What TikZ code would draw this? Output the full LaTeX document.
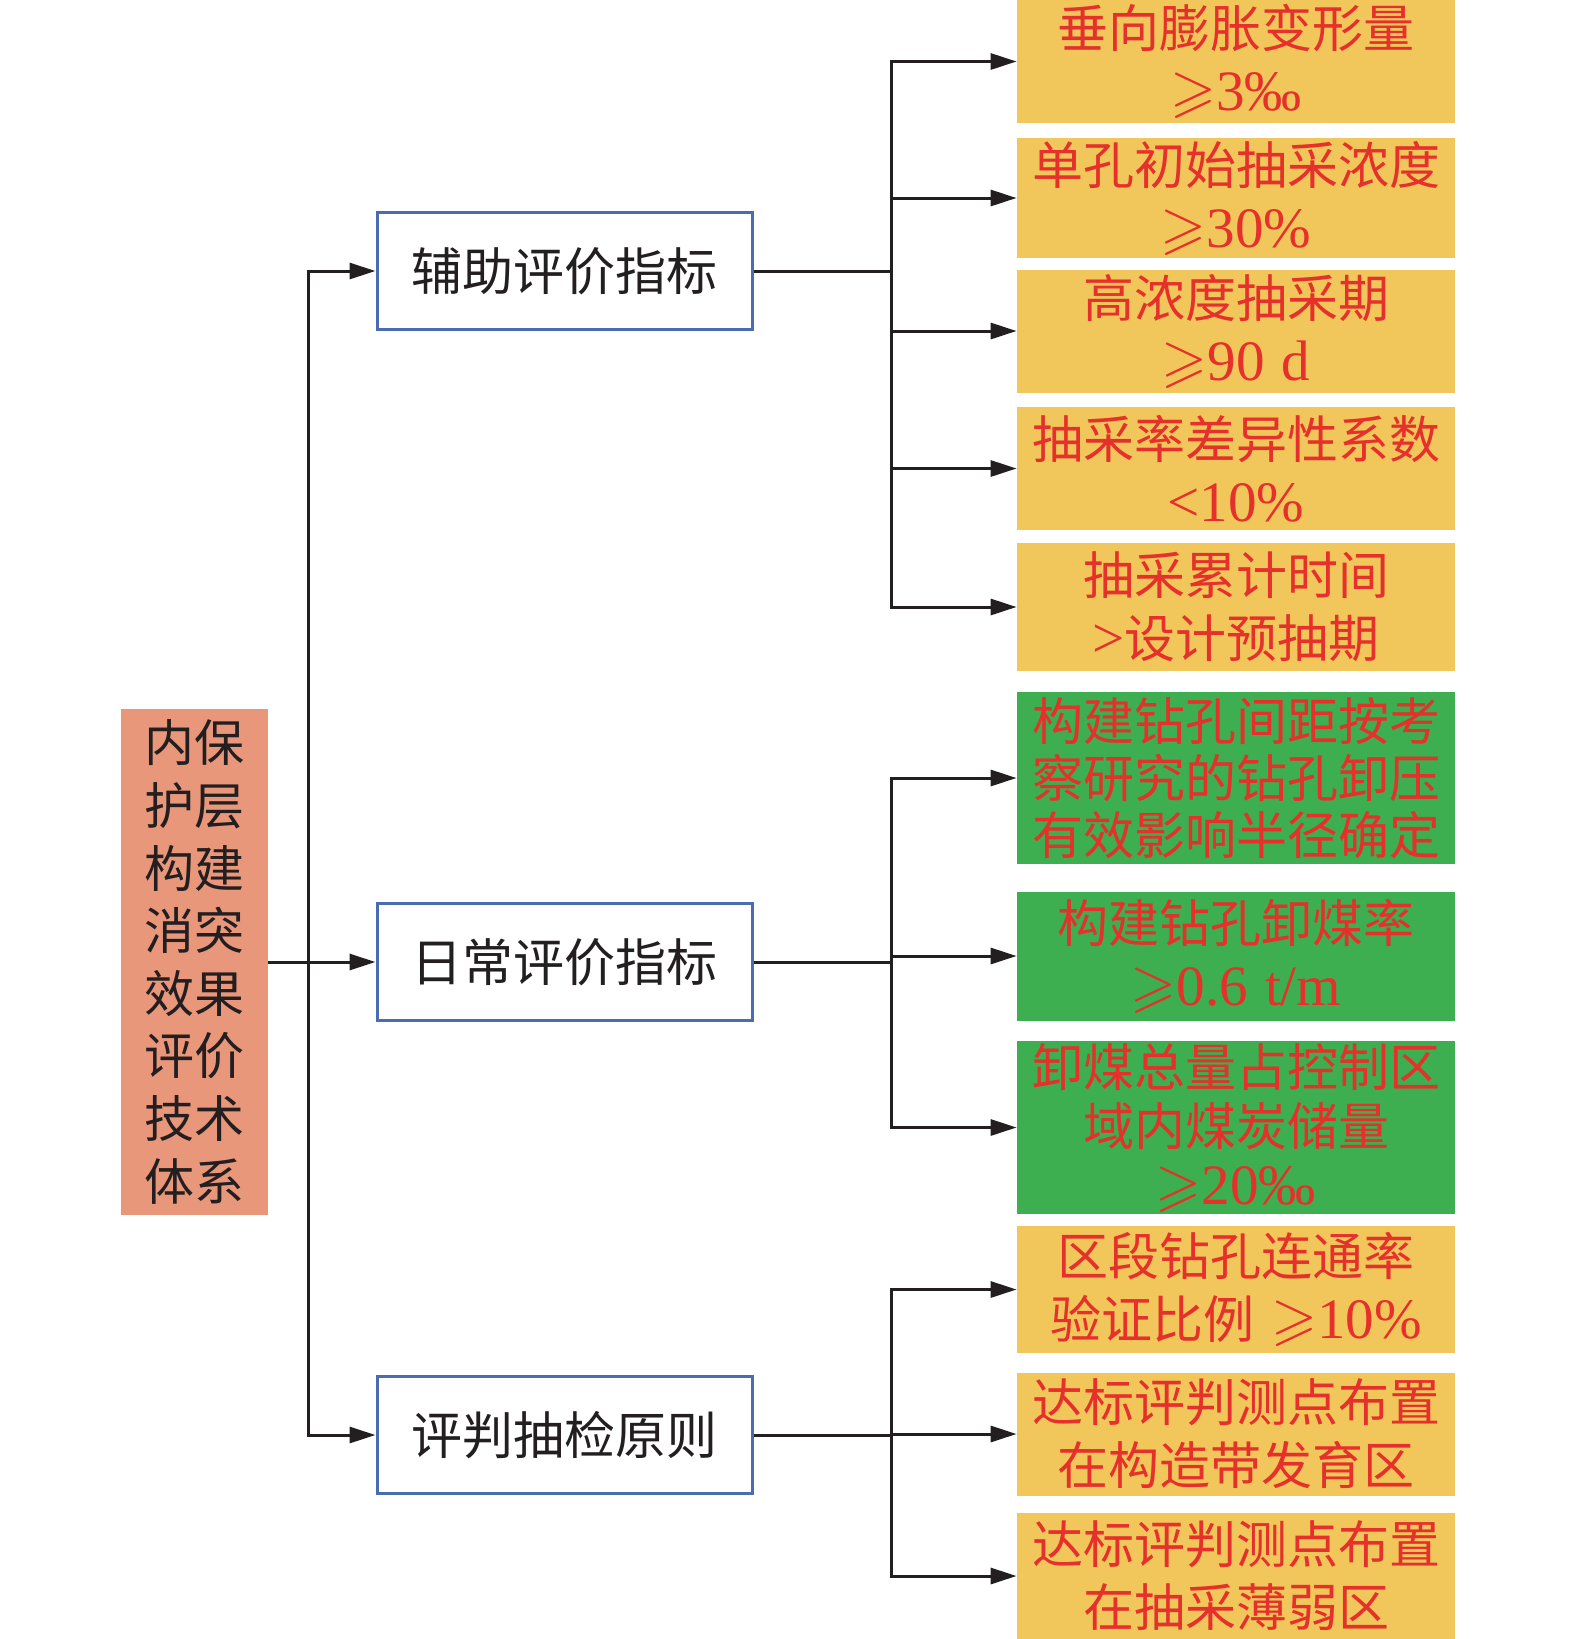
\documentclass[tikz,border=0pt]{standalone}
\usepackage{fontspec}
\usepackage{amssymb}
\setmainfont{Noto Sans CJK SC}
\newfontfamily\tnr[Scale=1.12]{Liberation Serif}
\usetikzlibrary{arrows.meta}
\definecolor{ybox}{HTML}{F1C75B}
\definecolor{gbox}{HTML}{3DAF50}
\definecolor{sbox}{HTML}{E9977A}
\definecolor{bline}{HTML}{4A6CB0}
\definecolor{rtext}{HTML}{E5302B}
\definecolor{kline}{HTML}{231F20}
\newcommand\gq{{\fontsize{29.5}{29.5}\selectfont$\geqslant$}}
\newcommand\tn[1]{{\tnr #1}}
\begin{document}
\begin{tikzpicture}[x=0.5pt,y=-0.5pt,
  conn/.style={draw=kline,line width=1.5pt},
  arr/.style={conn,-{Triangle[length=13pt,width=8pt]}},
  midbox/.style={draw=bline,line width=1.5pt,minimum width=187.5pt,minimum height=58.5pt,inner sep=0pt,text=kline,font=\fontsize{25.5}{30}\selectfont},
  rbox/.style={inner sep=0pt,minimum width=219pt,text width=219pt,align=center,text=rtext,font=\fontsize{25.5}{31.5}\selectfont},
  ybx/.style={rbox,fill=ybox},
  gbx/.style={rbox,fill=gbox,font=\fontsize{25.5}{28.3}\selectfont},
  leftbox/.style={fill=sbox,inner sep=0pt,minimum width=73.5pt,minimum height=253pt,align=center,text=kline,font=\fontsize{25}{31.3}\selectfont}
]
\fill[white] (0,0) rectangle (1575,1639);
\useasboundingbox (0,0) rectangle (1575,1639);

% left root
\node[leftbox] (lb) at (194.5,962) {内保\\护层\\构建\\消突\\效果\\评价\\技术\\体系};

% middle boxes
\node[midbox] (m1) at (564.5,271) {辅助评价指标};
\node[midbox] (m2) at (564.5,962) {日常评价指标};
\node[midbox] (m3) at (564.5,1435) {评判抽检原则};

% right boxes
\node[ybx,minimum height=61.5pt] (r1) at (1236,61.5) {垂向膨胀变形量\\\gq\tn{3‰}};
\node[ybx,minimum height=60pt] (r2) at (1236,198) {单孔初始抽采浓度\\\gq\tn{30\%}};
\node[ybx,minimum height=61.5pt] (r3) at (1236,331) {高浓度抽采期\\\gq\tn{90 d}};
\node[ybx,minimum height=61.5pt] (r4) at (1236,468.5) {抽采率差异性系数\\\tn{<10\%}};
\node[ybx,minimum height=64pt] (r5) at (1236,607) {抽采累计时间\\\tn{>}设计预抽期};
\node[gbx,minimum height=86pt] (g1) at (1236,778) {构建钻孔间距按考\\察研究的钻孔卸压\\有效影响半径确定};
\node[gbx,minimum height=64.5pt,font=\fontsize{25.5}{31.5}\selectfont] (g2) at (1236,956) {构建钻孔卸煤率\\\gq\tn{0.6 t/m}};
\node[gbx,minimum height=86.5pt,font=\fontsize{25.5}{29.5}\selectfont] (g3) at (1236,1127.5) {卸煤总量占控制区\\域内煤炭储量\\\gq\tn{20‰}};
\node[ybx,minimum height=63.5pt] (y6) at (1236,1289.5) {区段钻孔连通率\\验证比例 \gq\tn{10\%}};
\node[ybx,minimum height=61.5pt] (y7) at (1236,1434) {达标评判测点布置\\在构造带发育区};
\node[ybx,minimum height=63pt] (y8) at (1236,1576) {达标评判测点布置\\在抽采薄弱区};

% root connectors
\coordinate (t) at (308,962);
\draw[arr] (lb.east) -- (m2.west);
\draw[arr] (t) |- (m1.west);
\draw[arr] (t) |- (m3.west);

% branch 1
\coordinate (j1) at (891,271);
\draw[conn] (m1.east) -- (j1);
\foreach \n in {r1,r2,r3,r4,r5} \draw[arr] (j1) |- (\n.west);

% branch 2
\coordinate (j2) at (891,962);
\draw[conn] (m2.east) -- (j2);
\foreach \n in {g1,g2,g3} \draw[arr] (j2) |- (\n.west);

% branch 3
\coordinate (j3) at (891,1435);
\draw[conn] (m3.east) -- (j3);
\foreach \n in {y6,y7,y8} \draw[arr] (j3) |- (\n.west);
\end{tikzpicture}
\end{document}
